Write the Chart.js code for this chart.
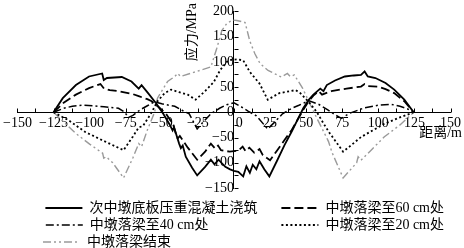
<!DOCTYPE html>
<html>
<head>
<meta charset="utf-8">
<script src="https://cdn.jsdelivr.net/npm/chart.js@4.4.0/dist/chart.umd.min.js"></script>
<style>
  html, body { margin: 0; padding: 0; background: #fff; }
</style>
</head>
<body>
<canvas id="chart" width="464" height="248"></canvas>
<script>
// Series names (legend)
const seriesNames = [
  '次中墩底板压重混凝土浇筑',
  '中墩落梁至60 cm处',
  '中墩落梁至40 cm处',
  '中墩落梁至20 cm处',
  '中墩落梁结束'
];

// 次中墩底板压重混凝土浇筑 (solid)
const solidX = [-125, -118.6, -109.5, -100.4, -91.3, -90.2, -88, -77.7, -71, -66, -64, -59.5, -54, -49, -44.8, -42.5, -41.5, -38, -36.8, -35.5, -33.4, -29, -25.5, -20, -16, -13.5, -10.7, -6, -2.7, 0,
  3, 6.4, 8.6, 11, 13, 15.5, 17.7, 21, 24.5, 30, 35, 40, 44, 48, 51.8, 55, 59.8, 62, 64.3, 70, 76.8, 83, 88, 90.5, 92.7, 98, 105, 111, 118, 124.5];
const solidY = [0, 28, 54, 71, 77, 64, 68, 70, 61, 47, 54, 38, 18, -3, -23, -36, -30, -62, -71, -66, -88, -110, -125, -108, -94, -103, -94, -108, -113, -116,
  -118, -127, -107, -120, -104, -113, -97, -113, -127, -95, -65, -38, -15, 8, 25, 35, 47, 42, 54, 63, 71, 73, 74, 81, 71, 68, 58, 45, 25, 0];

// 中墩落梁至60 cm处 (dashed)
const dashX = [-125, -118, -109.5, -100.4, -92.5, -90, -86, -80, -70, -66, -60, -57, -52, -47, -42, -40, -39, -37.5, -32, -25.5, -20, -16, -13, -11, -9, -3, 0,
  3, 6, 8, 10.7, 14, 17.7, 20, 25, 30, 35, 40, 45, 48, 51.8, 55, 58.6, 61, 67.5, 78, 88, 90.5, 93, 99.5, 105, 111, 118, 124.5];
const dashY = [0, 19, 35, 48, 56, 47, 44, 42, 36, 32, 26, 22, 10, -3, -25, -45, -52, -47, -70, -94, -78, -62, -72, -66, -75, -78, -77,
  -76, -68, -77, -70, -80, -73, -85, -95, -75, -55, -35, -10, 5, 22, 33, 42, 35, 42, 47, 51, 56, 52, 51, 46, 38, 22, 0];

// 中墩落梁至40 cm处 (dash-dot)
const dashDotX = [-125, -118, -112, -105, -98, -90, -80, -76, -73, -70, -65, -60, -55, -50, -45, -41, -36, -31, -25.5, -20, -16, -10, -5, 0,
  5, 10, 15.5, 23.4, 28, 33.6, 40, 45, 49.5, 52, 58.6, 65, 70, 74.5, 80, 90.5, 100, 108.6, 115, 120, 124.5];
const dashDotY = [0, 8, 12, 14, 13, 11, 8, 1, -10, -6, 5, 13, 21, 17, 14, 12, 4, -3, -33, -15, -3, 8, 15, 19,
  11, 2, -7, -33, -20, -3, 8, 14, 20, 23, 16, 5, -5, -12, -2, 9, 14, 16, 12, 7, 0];

// 中墩落梁至20 cm处 (dotted)
const dotX = [-125, -115, -103, -90, -76.5, -70, -66, -63, -57, -53, -48, -43.6, -38, -32, -26.6, -20, -14, -9.5, -5, -2, 2, 6.4, 11, 17.7, 23.4, 31.4, 42.7, 46, 52, 57.5, 62, 66, 75.6, 80, 88, 96, 104, 115, 124.5];
const dotY = [0, -15, -39, -57, -75, -48, -30, -27, 0, 22, 38, 45, 40, 35, 25, 42, 60, 84, 100, 104, 105, 103, 80, 57, 25, 38, 44, 38, 20, 0, -22, -40, -78, -68, -49, -36, -23, -10, 0];

// 中墩落梁结束 (gray dash-dot-dot)
const grayX = [-125, -109.5, -100, -91, -90.2, -88.5, -84, -76.5, -70, -66, -64, -60, -55, -53, -46, -41, -39, -37, -28, -16, -12, -8.4, -5, -1, 2, 7.7, 11, 14.5, 18, 23.6, 32.7, 37, 39, 41.8, 47.5, 55.4, 58, 64, 65.5, 68, 75.6, 85, 86, 88, 95, 104, 115, 124.5];
const grayY = [0, -42, -63, -81, -91, -88, -100, -130, -90, -62, -68, -35, 0, 28, 61, 71, 77, 71, 79, 90, 126, 162, 176, 183, 182, 178, 141, 116, 97, 83, 70, 77, 71, 74, 48, 0, -15, -49, -58, -80, -130, -100, -88, -95, -75, -49, -25, 0];

// Axis ranges
const xRange = [-150, 150];
const yRange = [-150, 200];

const FONT_FAMILY = "'Liberation Serif', 'Noto Sans CJK SC', serif";
const FONT_SIZE = 14;
const PAD = { left: 14, right: 10, top: 8, bottom: 0 };

// legend column layout
const LEGEND_X0 = 43;
const LEGEND_COL2 = 280;
const LEGEND_PAD = 3;
const LEGEND_BOX = 37;

function toPoints(xs, ys) {
  return xs.map((x, i) => ({ x: x, y: ys[i] }));
}

function fmt(v) {
  return v < 0 ? '\u2212' + Math.abs(v) : String(v);
}

// pad legend text with spaces so the two columns line up
const measureCtx = document.createElement('canvas').getContext('2d');
measureCtx.font = 'normal ' + FONT_SIZE + 'px ' + FONT_FAMILY;
function padText(text, target) {
  let best = text;
  let t = text;
  let bestDiff = Math.abs(measureCtx.measureText(t).width - target);
  for (let i = 0; i < 200; i++) {
    t += ' ';
    const d = Math.abs(measureCtx.measureText(t).width - target);
    if (d < bestDiff) { bestDiff = d; best = t; }
    if (measureCtx.measureText(t).width > target + 10) break;
  }
  return best;
}

function legendTargets() {
  const right = 464 - PAD.right;
  const rowWidth = right - LEGEND_X0;
  const w1 = LEGEND_COL2 - LEGEND_X0 - LEGEND_PAD;
  const w2 = rowWidth - w1 - 2 * LEGEND_PAD;
  const w5 = rowWidth - LEGEND_PAD;
  const extra = LEGEND_BOX + FONT_SIZE / 2;
  return [w1 - extra, w2 - extra, w1 - extra, w2 - extra, w5 - extra];
}

// inward tick marks on the crossing axes, plus axis titles
const innerTicks = {
  id: 'innerTicks',
  afterDraw(chart) {
    const { ctx, scales: { x, y } } = chart;
    const x0 = Math.round(x.getPixelForValue(0)) + 0.5;
    const y0 = Math.round(y.getPixelForValue(0)) + 0.5;
    ctx.save();
    ctx.strokeStyle = '#000';
    ctx.lineWidth = 1;
    ctx.beginPath();
    x.ticks.forEach(t => {
      const px = Math.round(x.getPixelForValue(t.value)) + 0.5;
      ctx.moveTo(px, y0);
      ctx.lineTo(px, y0 - 4);
    });
    y.ticks.forEach(t => {
      const py = Math.round(y.getPixelForValue(t.value)) + 0.5;
      ctx.moveTo(x0, py);
      ctx.lineTo(x0 + 4, py);
    });
    ctx.stroke();

    ctx.fillStyle = '#000';
    ctx.font = 'normal ' + FONT_SIZE + 'px ' + FONT_FAMILY;
    ctx.textBaseline = 'middle';
    ctx.textAlign = 'right';
    ctx.fillText('距离/m', 462, 133);
    ctx.translate(x0 - 42, 3);
    ctx.rotate(-Math.PI / 2);
    ctx.fillText('应力/MPa', 0, 0);
    ctx.restore();
  }
};

const tickFont = { family: FONT_FAMILY, size: FONT_SIZE };

new Chart(document.getElementById('chart'), {
  type: 'line',
  data: {
    datasets: [
      {
        label: seriesNames[0],
        data: toPoints(solidX, solidY),
        borderColor: '#000',
        borderWidth: 1.8,
        borderDash: []
      },
      {
        label: seriesNames[1],
        data: toPoints(dashX, dashY),
        borderColor: '#000',
        borderWidth: 1.8,
        borderDash: [9, 4]
      },
      {
        label: seriesNames[2],
        data: toPoints(dashDotX, dashDotY),
        borderColor: '#000',
        borderWidth: 1.5,
        borderDash: [8, 3, 2, 3]
      },
      {
        label: seriesNames[3],
        data: toPoints(dotX, dotY),
        borderColor: '#000',
        borderWidth: 1.8,
        borderDash: [2, 2.5]
      },
      {
        label: seriesNames[4],
        data: toPoints(grayX, grayY),
        borderColor: '#9a9a9a',
        borderWidth: 1.4,
        borderDash: [8, 3, 2, 3, 2, 3]
      }
    ]
  },
  options: {
    responsive: false,
    animation: false,
    devicePixelRatio: 1,
    layout: { padding: PAD },
    elements: {
      point: { radius: 0 },
      line: { tension: 0 }
    },
    plugins: {
      tooltip: { enabled: false },
      legend: {
        position: 'bottom',
        align: 'end',
        maxHeight: 60,
        title: { display: true, text: ' ', font: { size: 1, lineHeight: 1 }, padding: { top: 0, bottom: 9 } },
        labels: {
          usePointStyle: true,
          pointStyle: 'line',
          pointStyleWidth: LEGEND_BOX,
          padding: LEGEND_PAD,
          color: '#000',
          font: { family: FONT_FAMILY, size: FONT_SIZE },
          generateLabels(chart) {
            const items = Chart.defaults.plugins.legend.labels.generateLabels(chart);
            const targets = legendTargets();
            items.forEach((it, i) => {
              const ds = chart.data.datasets[it.datasetIndex];
              it.text = padText(it.text, targets[i]);
              it.lineDash = ds.borderDash;
              it.lineWidth = ds.borderWidth;
              it.strokeStyle = ds.borderColor;
            });
            return items;
          }
        }
      }
    },
    scales: {
      x: {
        type: 'linear',
        min: xRange[0],
        max: xRange[1],
        position: { y: 0 },
        grid: { display: true, drawOnChartArea: false, drawTicks: false },
        border: { color: '#000', width: 1 },
        ticks: {
          stepSize: 12.5,
          autoSkip: false,
          maxRotation: 0,
          padding: 3,
          color: '#000',
          font: tickFont,
          callback: v => (v % 25 !== 0 ? '' : (v === 0 ? '\u2002 0' : fmt(v)))
        }
      },
      y: {
        type: 'linear',
        min: yRange[0],
        max: yRange[1],
        position: { x: 0 },
        grid: { display: true, drawOnChartArea: false, drawTicks: false },
        border: { color: '#000', width: 1 },
        ticks: {
          stepSize: 25,
          autoSkip: false,
          padding: 3,
          color: '#000',
          font: tickFont,
          callback: v => (v % 50 !== 0 ? '' : fmt(v))
        }
      }
    }
  },
  plugins: [innerTicks]
});
</script>
</body>
</html>
